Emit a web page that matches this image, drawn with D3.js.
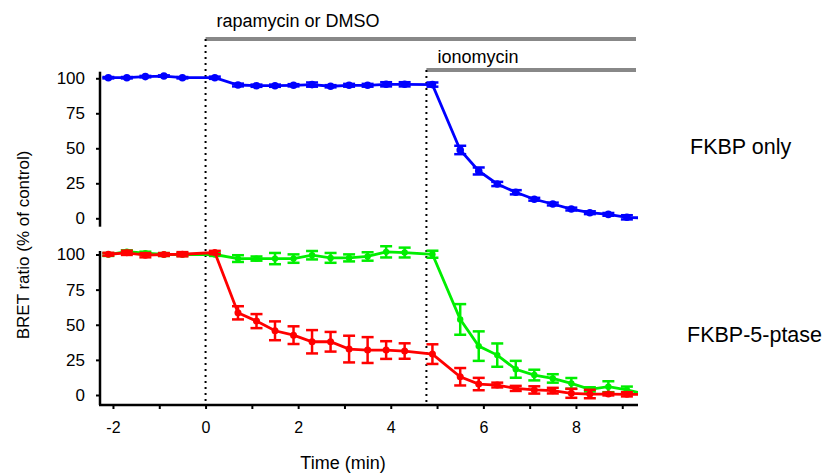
<!DOCTYPE html>
<html>
<head>
<meta charset="utf-8">
<script src="https://d3js.org/d3.v7.min.js"></script>
<style>
  body { margin: 0; background: #fff; }
  svg { display: block; font-family: "Liberation Sans", Arial, sans-serif; }
</style>
</head>
<body>
<svg id="chart" width="828" height="473"></svg>
<script>
// Sampling times (min); last point lies past the axis end and is clipped
const times = [-2.1, -1.7, -1.3, -0.9, -0.5, 0.2,
  0.7, 1.1, 1.5, 1.9, 2.3, 2.7, 3.1, 3.5, 3.9, 4.3, 4.9,
  5.5, 5.9, 6.3, 6.7, 7.1, 7.5, 7.9, 8.3, 8.7, 9.1, 9.5];

// FKBP only (top panel)
const blueMean = [100.4, 100.4, 101.2, 101.6, 100.4, 100.4,
  95.2, 94.7, 94.7, 95, 95.5, 94.3, 95, 95, 95.7, 95.7, 95.5,
  48.8, 33.8, 24.5, 18.6, 13.6, 10.2, 6.6, 4, 2.8, 0.7, 0.2];
const blueErr = [0.5, 0.5, 0.5, 0.5, 0.5, 0.8,
  1, 0.8, 0.8, 0.8, 1.5, 0.8, 1, 1, 1.5, 1.5, 1.5,
  3, 2.5, 1.5, 1.5, 1, 1, 1, 1, 1, 1.5, 0];

// FKBP-5-ptase, DMSO (green)
const greenMean = [100, 102, 101, 100, 100, 100,
  97.1, 97.1, 97.1, 97.1, 99.5, 97.6, 97.6, 98.6, 101.9, 101.4, 100.2,
  53.8, 34.8, 28.4, 18.3, 14.2, 11.8, 8.3, 4, 5.9, 3.6, 0.7];
const greenErr = [1, 1, 1, 1, 1, 1,
  2.4, 1.5, 4, 3, 3, 3.5, 2.5, 3, 4, 3.5, 2.5,
  10.9, 10.5, 8.3, 6, 3.8, 3, 3.8, 1.5, 3.9, 2.4, 0];

// FKBP-5-ptase, rapamycin (red)
const redMean = [100.2, 101.2, 99.5, 100, 100.2, 101.4,
  58.5, 52.6, 45.7, 42.6, 37.9, 37.9, 32.7, 32, 32, 31.3, 29.1,
  13, 7.8, 7.1, 4.7, 3.6, 3.1, 1.2, 0.7, 0.7, 0.5, 0.3];
const redErr = [1, 1.5, 1.5, 1, 1.5, 1.2,
  4.7, 5, 6.7, 6.3, 8.3, 7, 9.5, 9.2, 6.3, 5.5, 7,
  6.2, 4.4, 1.7, 1.8, 2.6, 2, 3.2, 3, 1, 1.5, 0];

const yTicks = [0, 25, 50, 75, 100];
const xTicks = [-2, 0, 2, 4, 6, 8];
const xMinorTicks = [-2, -1, 0, 1, 2, 3, 4, 5, 6, 7, 8, 9];
const addTimes = [0, 4.77]; // rapamycin/DMSO, ionomycin
const barLabels = ['rapamycin or DMSO', 'ionomycin'];

const svg = d3.select('#chart');
const FONT = '"Liberation Sans", Arial, sans-serif';

const x = d3.scaleLinear().domain([-2.28, 9.34]).range([100, 638]);
const yTop = d3.scaleLinear().domain([-6, 104.7]).range([226.7, 71.7]);
const yBot = d3.scaleLinear().domain([-6.4, 102.5]).range([404, 251]);

svg.append('defs').append('clipPath').attr('id', 'clip')
  .append('rect').attr('x', 100).attr('y', 0).attr('width', 538).attr('height', 473);

// Treatment bars, labels and dotted start lines
const barY = [39, 70];
addTimes.forEach((t, i) => {
  svg.append('line')
    .attr('x1', x(t)).attr('x2', 636)
    .attr('y1', barY[i]).attr('y2', barY[i])
    .attr('stroke', '#888').attr('stroke-width', 4);
  svg.append('text')
    .attr('x', x(t) + 11).attr('y', barY[i] - (i === 0 ? 12 : 7))
    .attr('font-size', 18).text(barLabels[i]);
  svg.append('line')
    .attr('x1', x(t)).attr('x2', x(t))
    .attr('y1', barY[i]).attr('y2', 405)
    .attr('stroke', '#000').attr('stroke-width', 2)
    .attr('stroke-dasharray', '2,4');
});

// Axes
function drawYAxis(scale, range) {
  const g = svg.append('g').attr('transform', 'translate(100,0)');
  g.call(d3.axisLeft(scale).tickValues(yTicks).tickSize(4).tickPadding(11));
  g.select('.domain').remove();
  g.append('line').attr('x1', 0).attr('x2', 0)
    .attr('y1', range[0]).attr('y2', range[1])
    .attr('stroke', '#000').attr('stroke-width', 2.5);
  g.selectAll('.tick line').attr('stroke-width', 2);
  g.selectAll('.tick text').attr('font-size', 17).attr('fill', '#000')
    .style('font-family', FONT);
}
drawYAxis(yTop, [71.7, 226.7]);
drawYAxis(yBot, [251, 405]);

const xg = svg.append('g').attr('transform', 'translate(0,405)');
xg.call(d3.axisBottom(x).tickValues(xMinorTicks).tickSize(4)
  .tickFormat(d => xTicks.includes(d) ? String(d) : ''));
xg.select('.domain').remove();
xg.append('line').attr('x1', 99).attr('x2', 638).attr('y1', 0).attr('y2', 0)
  .attr('stroke', '#000').attr('stroke-width', 2.5);
xg.selectAll('.tick line').attr('stroke-width', 2);
xg.selectAll('.tick text').attr('font-size', 16).attr('fill', '#000')
  .attr('y', 28).attr('dy', null)
  .style('font-family', FONT);

// Axis titles and panel labels
svg.append('text').attr('x', 343).attr('y', 469).attr('text-anchor', 'middle')
  .attr('font-size', 18).text('Time (min)');
svg.append('text')
  .attr('transform', 'translate(29,245) rotate(-90)')
  .attr('text-anchor', 'middle').attr('font-size', 17)
  .text('BRET ratio (% of control)');

svg.append('text').attr('x', 690).attr('y', 154).attr('font-size', 21.5).text('FKBP only');
svg.append('text').attr('x', 687).attr('y', 342).attr('font-size', 21.5).text('FKBP-5-ptase');

// Series: line, error bars with caps, filled markers
function drawSeries(mean, err, yScale, color, r) {
  const data = times.map((t, i) => ({ t, m: mean[i], e: err[i] }));
  const g = svg.append('g').attr('clip-path', 'url(#clip)');
  g.append('path').datum(data)
    .attr('fill', 'none').attr('stroke', color).attr('stroke-width', 2.8)
    .attr('d', d3.line().x(d => x(d.t)).y(d => yScale(d.m)));
  const eb = g.selectAll('g.err').data(data.filter(d => d.e > 0)).enter().append('g');
  eb.append('line')
    .attr('x1', d => x(d.t)).attr('x2', d => x(d.t))
    .attr('y1', d => yScale(d.m - d.e)).attr('y2', d => yScale(d.m + d.e))
    .attr('stroke', color).attr('stroke-width', 2.5);
  [-1, 1].forEach(s => {
    eb.append('line')
      .attr('x1', d => x(d.t) - 6).attr('x2', d => x(d.t) + 6)
      .attr('y1', d => yScale(d.m + s * d.e)).attr('y2', d => yScale(d.m + s * d.e))
      .attr('stroke', color).attr('stroke-width', 2.5);
  });
  g.selectAll('circle').data(data).enter().append('circle')
    .attr('cx', d => x(d.t)).attr('cy', d => yScale(d.m))
    .attr('r', r).attr('fill', color);
}

drawSeries(blueMean, blueErr, yTop, '#0000ff', 3.8);
drawSeries(greenMean, greenErr, yBot, '#00ee00', 3.2);
drawSeries(redMean, redErr, yBot, '#ff0000', 3.5);
</script>
</body>
</html>
